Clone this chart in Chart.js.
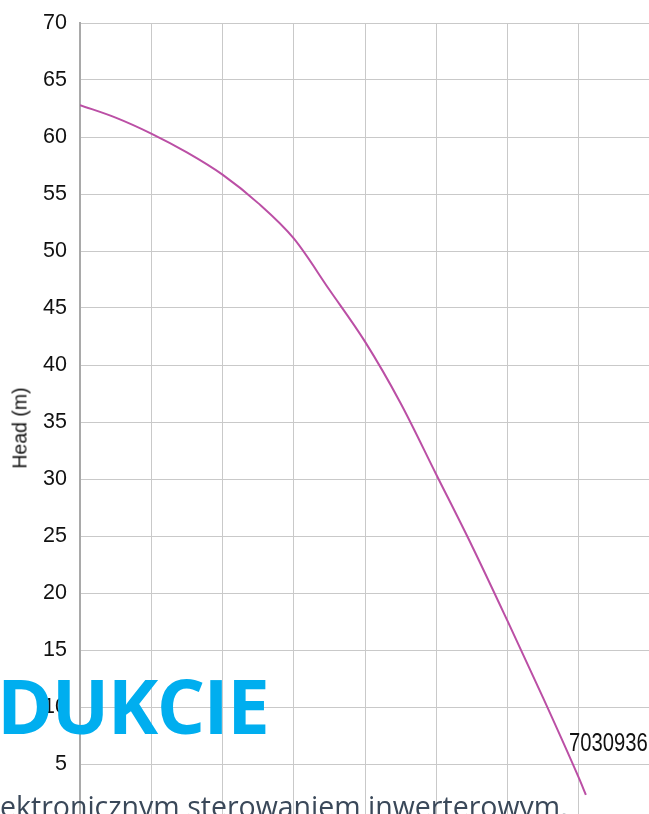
<!DOCTYPE html>
<html>
<head>
<meta charset="utf-8">
<script src="https://cdn.jsdelivr.net/npm/chart.js@4.4.0/dist/chart.umd.min.js"></script>
<style>
  body { margin: 0; overflow: hidden; background: #fff; width: 649px; height: 814px; position: relative; }
  #wrap { position: absolute; left: 0; top: 0; }
  .over { position: absolute; white-space: nowrap; line-height: 1; }
  #stamp { left: -3px; top: 653px; font: bold 76px "Open Sans"; letter-spacing: -1.5px; color: #00aeef; }
  #caption { left: 0; top: 787px; font: 28.5px "Open Sans"; color: #3a4859; }
  #model { left: 569px; top: 728px; font: 25px "Liberation Sans"; color: #111; transform: scaleX(0.81); transform-origin: 0 0; }
  #ytitle { left: 19.5px; top: 427.5px; font: 19.5px "Liberation Sans"; color: #111; transform: translate(-50%, -50%) rotate(-90deg); }
</style>
</head>
<body>
<div id="wrap"><canvas id="pump" width="660" height="830"></canvas></div>
<div class="over" id="ytitle">Head (m)</div>
<div class="over" id="stamp">DUKCIE</div>
<div class="over" id="caption">ektronicznym sterowaniem inwerterowym,</div>
<div class="over" id="model">7030936</div>
<script>
const flow = [0, 0.5, 1, 1.5, 2, 2.5, 3, 3.5, 4, 4.5, 5, 5.5, 6, 6.5, 7, 7.1];
const head = [62.8, 61.7, 60.3, 58.65, 56.7, 54.2, 51.1, 46.6, 42.05, 36.65, 30.4, 24.15, 17.55, 10.8, 3.8, 2.3];
const headTicks = [5, 10, 15, 20, 25, 30, 35, 40, 45, 50, 55, 60, 65, 70];

const points = flow.map((f, i) => ({ x: f, y: head[i] }));

const ctx = document.getElementById('pump');
new Chart(ctx, {
  type: 'line',
  data: {
    datasets: [{
      label: '7030936',
      data: points,
      borderColor: '#bb4fa5',
      borderWidth: 2,
      pointRadius: 0,
      cubicInterpolationMode: 'monotone',
      fill: false
    }]
  },
  options: {
    responsive: false,
    animation: false,
    layout: { padding: { top: 23, right: 10, bottom: 9, left: 0 } },
    plugins: { legend: { display: false }, tooltip: { enabled: false } },
    scales: {
      x: {
        type: 'linear',
        min: 0,
        max: 8,
        afterFit: (s) => { s.height = 0; s.paddingLeft = 0; s.paddingRight = 0; },
        ticks: { display: false, stepSize: 1 },
        grid: { color: '#c9c9c9', lineWidth: 1, drawTicks: false },
        border: { display: false }
      },
      y: {
        min: 0,
        max: 70,
        afterFit: (s) => { s.width = 80; s.paddingTop = 0; s.paddingBottom = 0; },
        afterBuildTicks: (s) => { s.ticks = headTicks.map(v => ({ value: v })); },
        ticks: {
          padding: 13,
          color: '#111',
          font: { family: '"Liberation Sans"', size: 21.5 }
        },
        grid: { color: '#c9c9c9', lineWidth: 1, drawTicks: false },
        border: { display: true, color: '#a9a9a9', width: 2 }
      }
    }
  }
});
</script>
</body>
</html>
